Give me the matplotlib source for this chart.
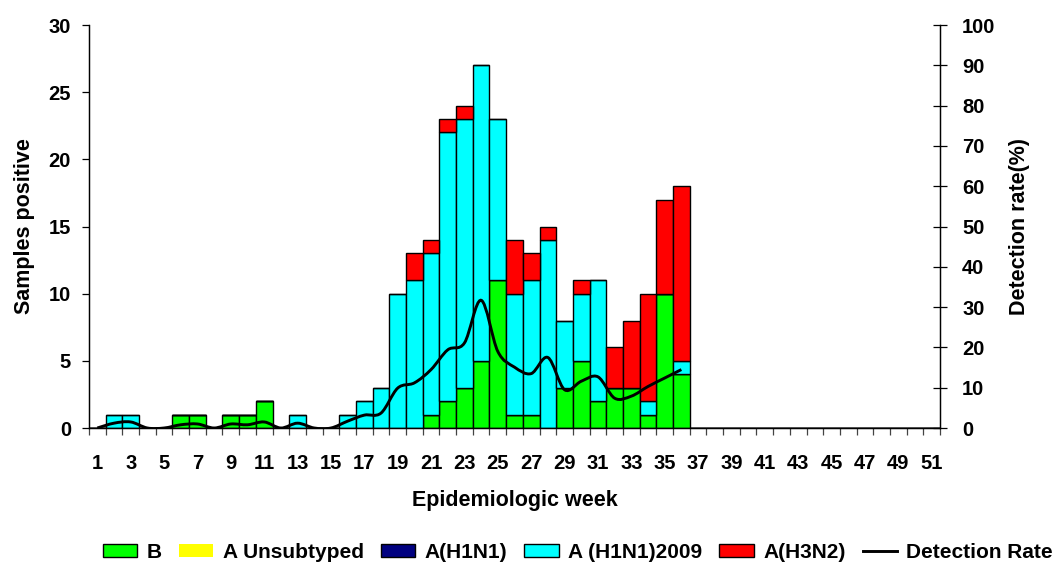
import matplotlib
matplotlib.use('Agg')
import matplotlib.pyplot as plt
import numpy as np
from matplotlib.path import Path
from matplotlib.patches import PathPatch, Patch
from matplotlib.lines import Line2D

plt.rcParams['font.family'] = ['Liberation Sans', 'DejaVu Sans']
plt.rcParams['font.weight'] = 'bold'

weeks = list(range(1, 52))

# samples positive per week (weeks 1-36, zero after)
flu_b = [0, 0, 0, 0, 0, 1, 1, 0, 1, 1, 2, 0, 0, 0, 0, 0, 0, 0,
         0, 0, 1, 2, 3, 5, 11, 1, 1, 0, 3, 5, 2, 3, 3, 1, 10, 4]
a_unsub = [0] * 36
a_h1n1 = [0] * 36
a_h1n1_2009 = [0, 1, 1, 0, 0, 0, 0, 0, 0, 0, 0, 0, 1, 0, 0, 1, 2, 3,
               10, 11, 12, 20, 20, 22, 12, 9, 10, 14, 5, 5, 9, 0, 0, 1, 0, 1]
a_h3n2 = [0, 0, 0, 0, 0, 0, 0, 0, 0, 0, 0, 0, 0, 0, 0, 0, 0, 0,
          0, 2, 1, 1, 1, 0, 0, 4, 2, 1, 0, 1, 0, 3, 5, 8, 7, 13]
# detection rate (%)
det_rate = [0, 1.2, 1.5, 0, 0, 0.8, 1.0, 0, 1.0, 0.8, 1.5, 0, 1.2, 0, 0, 1.7, 3.2, 3.7,
            9.9, 11.2, 14.5, 19.4, 21.1, 31.7, 19.0, 15.1, 13.5, 17.5, 9.5, 11.6, 12.7,
            7.4, 7.9, 10.3, 12.4, 14.5]


def pad(v):
    return np.array(v + [0] * (len(weeks) - len(v)), dtype=float)


series = [
    ('B', pad(flu_b), '#00ff00', 'black'),
    ('A Unsubtyped', pad(a_unsub), '#ffff00', 'none'),
    ('A(H1N1)', pad(a_h1n1), '#000080', 'black'),
    ('A (H1N1)2009', pad(a_h1n1_2009), '#00ffff', 'black'),
    ('A(H3N2)', pad(a_h3n2), '#ff0000', 'black'),
]

fig = plt.figure(figsize=(10.63, 5.66), dpi=100)
ax = fig.add_axes([0.0837, 0.2438, 0.8006, 0.712])
ax2 = ax.twinx()

bottom = np.zeros(len(weeks))
handles = []
for name, vals, col, ec in series:
    ax.bar(weeks, vals, width=1.0, bottom=bottom, color=col, edgecolor=ec, linewidth=1.0, zorder=2)
    bottom += vals
    handles.append(Patch(facecolor=col, edgecolor=ec, linewidth=1.0, label=name))

# smoothed detection rate line (Catmull-Rom as cubic bezier)
pts = np.column_stack([weeks[:len(det_rate)], det_rate])
verts = [tuple(pts[0])]
codes = [Path.MOVETO]
for i in range(len(pts) - 1):
    p0 = pts[max(i - 1, 0)]
    p1 = pts[i]
    p2 = pts[i + 1]
    p3 = pts[min(i + 2, len(pts) - 1)]
    c1 = p1 + (p2 - p0) / 6.0
    c2 = p2 - (p3 - p1) / 6.0
    verts += [tuple(c1), tuple(c2), tuple(p2)]
    codes += [Path.CURVE4] * 3
ax2.add_patch(PathPatch(Path(verts, codes), facecolor='none', edgecolor='black', linewidth=2.1, zorder=3))
handles.append(Line2D([], [], color='black', linewidth=2.1, label='Detection Rate'))

ax.set_xlim(0.5, 51.5)
ax.set_ylim(0, 30)
ax2.set_ylim(0, 100)
ax.set_yticks(range(0, 31, 5))
ax2.set_yticks(range(0, 101, 10))

ax.set_xticks(np.arange(0.5, 52, 1.0))
ax.set_xticklabels([])
ax.set_xticks(range(1, 52, 2), minor=True)
ax.set_xticklabels([str(w) for w in range(1, 52, 2)], minor=True)
ax.tick_params(axis='x', which='major', direction='out', length=5, width=0.9, color='#444444')
ax.tick_params(axis='x', which='minor', length=0, pad=19, labelsize=14.5)
ax.tick_params(axis='y', direction='out', length=5, width=0.9, pad=8, labelsize=14.5)
ax2.tick_params(axis='y', direction='inout', length=10, width=0.9, pad=11, labelsize=14.5)

for a in (ax, ax2):
    a.spines['top'].set_visible(False)
    for s in ('left', 'right', 'bottom'):
        a.spines[s].set_linewidth(0.9)

ax.set_xlabel('Epidemiologic week', fontsize=15.5, fontweight='bold', labelpad=12)
ax.set_ylabel('Samples positive', fontsize=15.5, fontweight='bold', labelpad=10)
ax2.set_ylabel('Detection rate(%)', fontsize=15.5, fontweight='bold', labelpad=10)

fig.legend(handles=handles, loc='center left', bbox_to_anchor=(0.097, 0.024), ncol=6, frameon=False,
           borderpad=0, borderaxespad=0, fontsize=15, handlelength=1.65, handleheight=0.6,
           handletextpad=0.45, columnspacing=0.82)

fig.savefig('out.png', dpi=100)
